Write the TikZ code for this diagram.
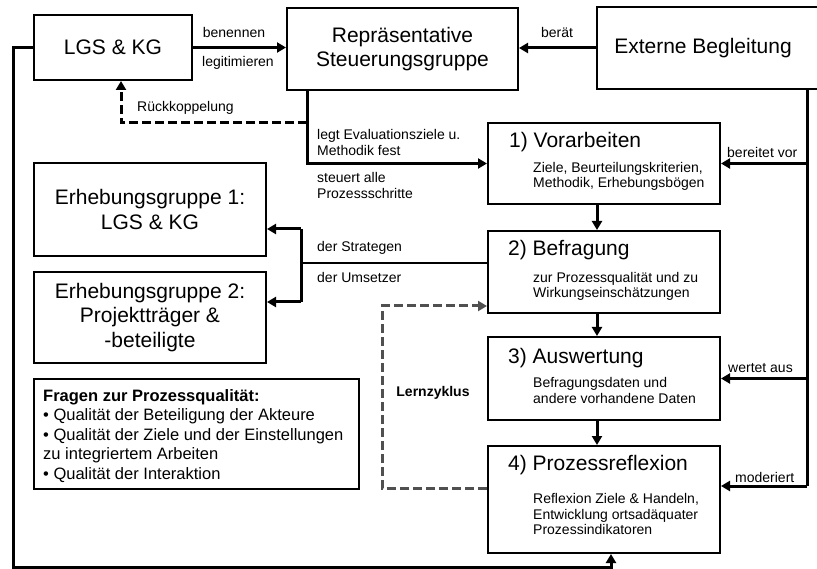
\documentclass[tikz,border=0pt]{standalone}
\usepackage{fontspec}
\setmainfont{Liberation Sans}
\usetikzlibrary{arrows.meta}
\definecolor{lzgray}{HTML}{505050}
\tikzset{
  box/.style={draw, line width=2pt, inner sep=0pt, align=center, font=\fontsize{21}{24.5}\selectfont},
  title/.style={inner sep=0pt, anchor=west, font=\fontsize{21}{25}\selectfont},
  sub/.style={inner sep=0pt, anchor=west, align=left, font=\fontsize{14}{15.7}\selectfont},
  lab/.style={inner sep=0pt, font=\fontsize{14}{15.7}\selectfont},
  labw/.style={lab, anchor=west, align=left},
  conn/.style={line width=3pt},
  arr/.style={line width=3pt, -{Triangle[length=9pt,width=10pt]}},
  thinconn/.style={line width=1.8pt},
  rkdash/.style={line width=3pt, dash pattern=on 9pt off 4pt, -{Triangle[length=9pt,width=10pt]}},
  lzdash/.style={line width=3pt, lzgray, dash pattern=on 9pt off 4pt, -{Triangle[length=9pt,width=10pt]}}
}
\begin{document}
\begin{tikzpicture}[x=1pt,y=-1pt]
\useasboundingbox (0,0) rectangle (817,569);
% boxes
\node[box, minimum width=158pt, minimum height=65pt] (lgs) at (113,47.5) {LGS \& KG};
\node[box, minimum width=231pt, minimum height=82pt] (steu) at (402.5,49) {Repräsentative\\Steuerungsgruppe};
\node[box, minimum width=240pt, minimum height=82pt] (ext) at (717,48) {};
\node[inner sep=0pt, font=\fontsize{21}{25}\selectfont] (extt) at (703,48) {Externe Begleitung};
\node[box, minimum width=232pt, minimum height=81pt] (vor) at (604,163.5) {};
\node[box, minimum width=232pt, minimum height=82pt] (bef) at (604,272) {};
\node[box, minimum width=232pt, minimum height=83pt] (aus) at (604,378.5) {};
\node[box, minimum width=232pt, minimum height=107pt] (proz) at (604,499.5) {};
\node[box, minimum width=232pt, minimum height=93pt] (erh1) at (150,209.5) {Erhebungsgruppe 1:\\LGS \& KG};
\node[box, minimum width=232pt, minimum height=91pt] (erh2) at (150,317.5) {Erhebungsgruppe 2:\\Projektträger \&\\-beteiligte};
\node[box, minimum width=325pt, minimum height=110pt] (frq) at (196.5,434) {};
% box texts
\node[title] (vort) at (509,142) {1) Vorarbeiten};
\node[sub] (vors) at (533,176.5) {Ziele, Beurteilungskriterien,\\Methodik, Erhebungsbögen};
\node[title] (beft) at (508,250) {2) Befragung};
\node[sub] (befs) at (533,286.5) {zur Prozessqualität und zu\\Wirkungseinschätzungen};
\node[title] (aust) at (508,358) {3) Auswertung};
\node[sub] (auss) at (533,390.5) {Befragungsdaten und\\andere vorhandene Daten};
\node[title] (prozt) at (508,465) {4) Prozessreflexion};
\node[sub] (prozs) at (533,514) {Reflexion Ziele \& Handeln,\\Entwicklung ortsadäquater\\Prozessindikatoren};
\node[inner sep=0pt, anchor=west, align=left, font=\fontsize{16.5}{19.5}\selectfont] (frqt) at (43,436)
  {\textbf{Fragen zur Prozessqualität:}\\• Qualität der Beteiligung der Akteure\\• Qualität der Ziele und der Einstellungen\\zu integriertem Arbeiten\\• Qualität der Interaktion};
% coordinates
\coordinate (sv) at (307,90);
\coordinate (rk) at (307,123);
\coordinate (rkx) at (121,123);
\coordinate (eR) at (807,486);
\coordinate (bx) at (301,263);
\coordinate (b1) at (301,229);
\coordinate (b2) at (301,302);
\coordinate (lzb) at (382,488);
\coordinate (lzt) at (382,306);
\coordinate (cx) at (597,0);
\coordinate (fbl) at (13,47.5);
\coordinate (fbb) at (13,567);
\coordinate (fbr) at (611,567);
% connectors
\draw[arr] (lgs.east) -- (steu.west |- lgs.east);
\draw[arr] (ext.west |- extt) -- (steu.east |- extt);
\draw[rkdash] (rk) -- (rkx) -- (rkx |- lgs.south);
\draw[arr] (sv) |- (vor.west);
\draw[conn] (ext.south -| eR) -- (eR);
\draw[arr] (ext.south -| eR) |- (vor.east);
\draw[arr] (ext.south -| eR) |- (aus.east);
\draw[arr] (eR) -- (proz.east |- eR);
\draw[arr] (vor.south -| cx) -- (bef.north -| cx);
\draw[arr] (bef.south -| cx) -- (aus.north -| cx);
\draw[arr] (aus.south -| cx) -- (proz.north -| cx);
\draw[thinconn] (bef.west |- bx) -- (bx);
\draw[conn] (b1) -- (b2);
\draw[arr] (b1) -- (erh1.east |- b1);
\draw[arr] (b2) -- (erh2.east |- b2);
\draw[lzdash] (proz.west |- lzb) -- (lzb) -- (lzt) -- (bef.west |- lzt);
\draw[arr] (lgs.west) -- (fbl) -- (fbb) -- (fbr) -- (proz.south -| fbr);
% labels
\node[lab] (l1) at (234,33) {benennen};
\node[lab] (l2) at (238,63) {legitimieren};
\node[lab] (l3) at (557,33) {berät};
\node[labw] (l4) at (137,108) {Rückkoppelung};
\node[labw] (l5) at (317,142.5) {legt Evaluationsziele u.\\Methodik fest};
\node[labw] (l6) at (317,185.5) {steuert alle\\Prozessschritte};
\node[labw] (l7) at (317,248) {der Strategen};
\node[labw] (l8) at (317,277) {der Umsetzer};
\node[labw] (l9) at (727,152) {bereitet vor};
\node[labw] (l10) at (728,368) {wertet aus};
\node[labw] (l11) at (735,477) {moderiert};
\node[lab, font=\fontsize{14}{16}\selectfont\bfseries] (l12) at (433,393) {Lernzyklus};
\end{tikzpicture}
\end{document}
